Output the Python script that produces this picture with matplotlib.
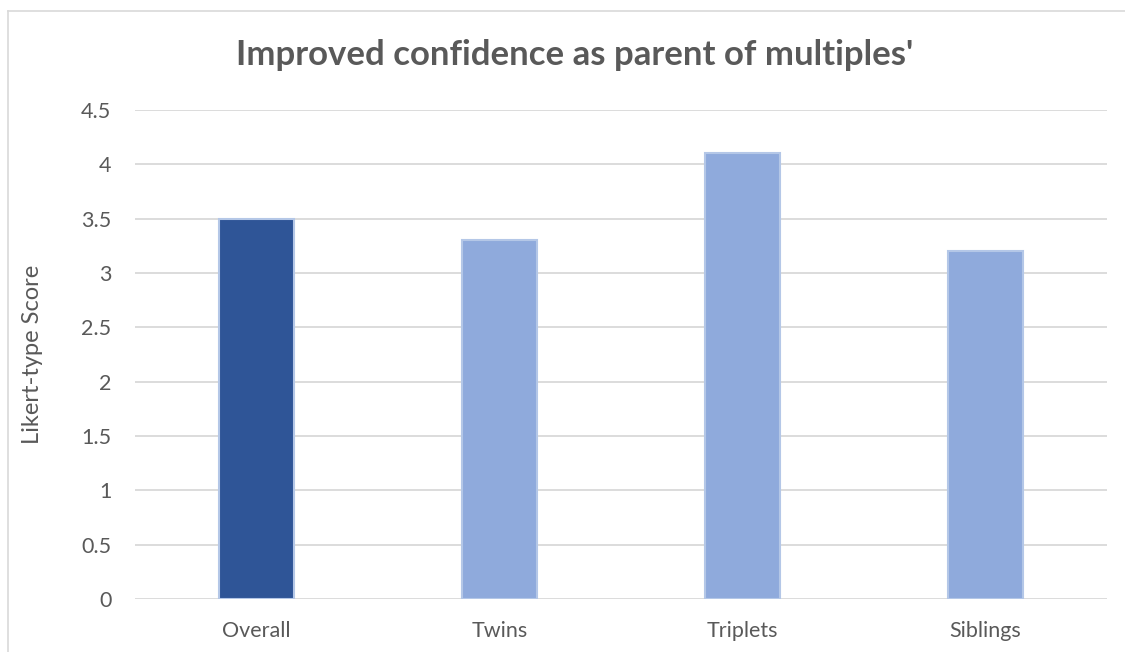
import matplotlib
matplotlib.use("Agg")
import matplotlib.pyplot as plt
from matplotlib.lines import Line2D

categories = ["Overall", "Twins", "Triplets", "Siblings"]
scores = [3.5, 3.3, 4.1, 3.2]
bar_colors = ["#2F5597", "#8FAADC", "#8FAADC", "#8FAADC"]
yticks = [0, 0.5, 1, 1.5, 2, 2.5, 3, 3.5, 4, 4.5]
ytick_labels = ["0", "0.5", "1", "1.5", "2", "2.5", "3", "3.5", "4", "4.5"]

plt.rcParams["font.family"] = ["Lato", "DejaVu Sans"]
text_color = "#595959"

W, H = 1125, 652
fig = plt.figure(figsize=(W / 100, H / 100), dpi=100)
ax = fig.add_axes([135 / W, 1 - 599 / H, (1107 - 135) / W, (599 - 110) / H])

x = list(range(len(categories)))
ax.bar(x, scores, width=0.31, color=bar_colors, edgecolor="#B4C7E7",
       linewidth=1.5, zorder=3)

ax.set_xlim(-0.5, len(categories) - 0.5)
ax.set_ylim(0, 4.5)
ax.set_yticks(yticks)
ax.set_yticklabels(ytick_labels)
ax.set_xticks(x)
ax.set_xticklabels(categories)
ax.tick_params(axis="both", length=0, labelsize=15.5, colors=text_color)
ax.tick_params(axis="y", pad=17)
ax.tick_params(axis="x", pad=16)
ax.grid(axis="y", color="#D9D9D9", linewidth=1.3, zorder=0)
for s in ax.spines.values():
    s.set_visible(False)

fig.text(33 / W, 1 - 354 / H, "Likert-type Score", rotation=90,
         ha="center", va="center", fontsize=17, color=text_color)
fig.text(575 / W, 1 - 55 / H, "Improved confidence as parent of multiples'",
         ha="center", va="center", fontsize=25, fontweight="bold", color=text_color)

# chart frame (left and top edges)
fig.add_artist(Line2D([8 / W, 8 / W], [0, 1 - 11 / H], transform=fig.transFigure,
                      color="#D9D9D9", linewidth=1.2))
fig.add_artist(Line2D([8 / W, 1], [1 - 11 / H, 1 - 11 / H], transform=fig.transFigure,
                      color="#D9D9D9", linewidth=1.2))

fig.savefig("out.png", dpi=100, facecolor="white")
